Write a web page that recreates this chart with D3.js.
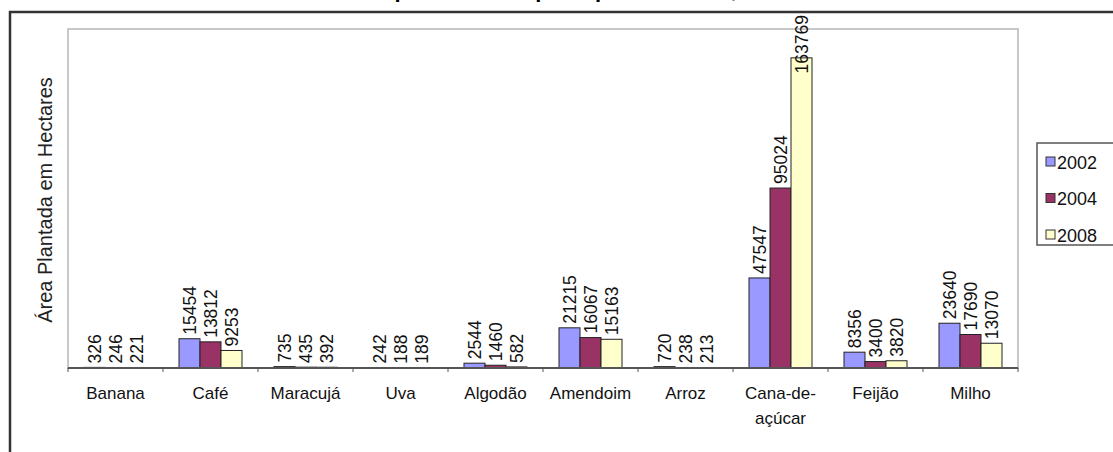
<!DOCTYPE html>
<html>
<head>
<meta charset="utf-8">
<script src="https://cdn.jsdelivr.net/npm/d3@7"></script>
<style>
  body { margin: 0; background: #fff; }
  svg { display: block; font-family: Arial, "Liberation Sans", sans-serif; }
</style>
</head>
<body>
<div id="chart"></div>
<script>
const categories = [["Banana"], ["Café"], ["Maracujá"], ["Uva"], ["Algodão"], ["Amendoim"], ["Arroz"], ["Cana-de-", "açúcar"], ["Feijão"], ["Milho"]];
const years = ["2002", "2004", "2008"];
const values2002 = [326, 15454, 735, 242, 2544, 21215, 720, 47547, 8356, 23640];
const values2004 = [246, 13812, 435, 188, 1460, 16067, 238, 95024, 3400, 17690];
const values2008 = [221, 9253, 392, 189, 582, 15163, 213, 163769, 3820, 13070];
const colors = ["#9999ff", "#993366", "#ffffcc"];

const series = [values2002, values2004, values2008];
const width = 1113, height = 452;

const svg = d3.select("#chart").append("svg")
  .attr("width", width)
  .attr("height", height);

svg.append("rect").attr("width", width).attr("height", height).attr("fill", "#fff");

// titulo (so as pontas aparecem no topo da imagem)
svg.append("text")
  .attr("x", 600).attr("y", -3)
  .attr("text-anchor", "middle")
  .style("font-size", "22px").style("font-weight", "bold")
  .text("Área plantada das principais culturas, 2002 - 2008");

// moldura externa
svg.append("rect")
  .attr("x", 10).attr("y", 12)
  .attr("width", width + 20).attr("height", height + 20)
  .attr("fill", "#fff").attr("stroke", "#333").attr("stroke-width", 2.5);

const plotLeft = 68, plotRight = 1018, plotTop = 29, plotBottom = 368;

const x = d3.scaleBand()
  .domain(d3.range(categories.length))
  .range([plotLeft, plotRight]);

const xInner = d3.scaleBand()
  .domain(years)
  .range([0, 63]);

const y = d3.scaleLinear()
  .domain([0, 179000])
  .range([plotBottom, plotTop]);

// borda da area de plotagem
svg.append("rect")
  .attr("x", plotLeft).attr("y", plotTop)
  .attr("width", plotRight - plotLeft).attr("height", plotBottom - plotTop)
  .attr("fill", "none").attr("stroke", "#c8c8c8").attr("stroke-width", 2);

const groups = svg.selectAll("g.cat")
  .data(categories)
  .enter().append("g")
  .attr("class", "cat")
  .attr("transform", (d, i) => `translate(${x(i) + (x.bandwidth() - 63) / 2},0)`);

groups.each(function(d, i) {
  const g = d3.select(this);
  years.forEach((yr, k) => {
    const v = series[k][i];
    g.append("rect")
      .attr("x", xInner(yr))
      .attr("y", y(v))
      .attr("width", xInner.bandwidth())
      .attr("height", plotBottom - y(v))
      .attr("fill", colors[k])
      .attr("stroke", "#222")
      .attr("stroke-width", 1);
  });
});

// rotulos dos valores (depois das barras, para ficarem por cima)
groups.each(function(d, i) {
  const g = d3.select(this);
  years.forEach((yr, k) => {
    const v = series[k][i];
    const cx = xInner(yr) + xInner.bandwidth() / 2;
    const t = g.append("text")
      .attr("text-anchor", "start")
      .style("font-size", "17.5px")
      .attr("fill", "#111")
      .text(v);
    // se nao couber em cima, desce o rotulo (como no Excel)
    const len = t.node().getComputedTextLength();
    const start = Math.max(y(v) - 4, 15 + len);
    t.attr("transform", `translate(${cx + 6.5},${start}) rotate(-90)`);
  });
});

// eixo x
const xAxis = svg.append("g");
xAxis.append("line")
  .attr("x1", plotLeft).attr("x2", plotRight)
  .attr("y1", plotBottom).attr("y2", plotBottom)
  .attr("stroke", "#555").attr("stroke-width", 2);
xAxis.selectAll("line.tick")
  .data(d3.range(categories.length + 1))
  .enter().append("line")
  .attr("class", "tick")
  .attr("x1", i => plotLeft + i * x.step()).attr("x2", i => plotLeft + i * x.step())
  .attr("y1", plotBottom).attr("y2", plotBottom + 4)
  .attr("stroke", "#555");

const labels = svg.selectAll("text.cat-label")
  .data(categories)
  .enter().append("text")
  .attr("class", "cat-label")
  .attr("x", (d, i) => x(i) + x.bandwidth() / 2)
  .attr("y", 399)
  .attr("text-anchor", "middle")
  .style("font-size", "17px")
  .attr("fill", "#111");
labels.selectAll("tspan")
  .data(d => d)
  .enter().append("tspan")
  .attr("x", function() { return d3.select(this.parentNode).attr("x"); })
  .attr("dy", (d, j) => j === 0 ? 0 : 25)
  .text(d => d);

// titulo do eixo y
svg.append("text")
  .attr("transform", "translate(52,200) rotate(-90)")
  .attr("text-anchor", "middle")
  .style("font-size", "20px")
  .attr("fill", "#222")
  .text("Área Plantada em Hectares");

// legenda
const legend = svg.append("g");
legend.append("rect")
  .attr("x", 1037).attr("y", 143)
  .attr("width", 100).attr("height", 102)
  .attr("fill", "#fff").attr("stroke", "#555").attr("stroke-width", 1.5);
years.forEach((yr, k) => {
  const ly = 162 + k * 36.5;
  legend.append("rect")
    .attr("x", 1046).attr("y", ly - 5)
    .attr("width", 9).attr("height", 9)
    .attr("fill", colors[k]).attr("stroke", "#333");
  legend.append("text")
    .attr("x", 1057).attr("y", ly + 6.5)
    .style("font-size", "18px")
    .attr("fill", "#111")
    .text(yr);
});
</script>
</body>
</html>
